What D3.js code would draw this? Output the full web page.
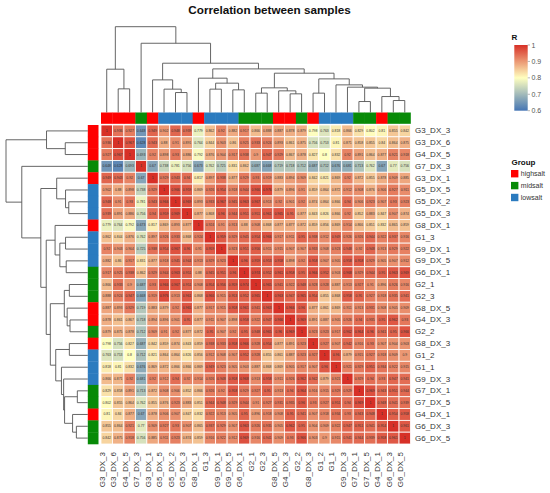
<!DOCTYPE html>
<html><head><meta charset="utf-8">
<script src="https://cdn.jsdelivr.net/npm/d3@7/dist/d3.min.js"></script>
<style>body{margin:0;background:#fff}svg{display:block;font-family:"Liberation Sans",Arial,sans-serif}</style>
</head><body><svg id="chart" width="550" height="493"></svg>
<script>
// ---- data ----
const samples = ["G3_DX_3","G3_DX_6","G4_DX_5","G7_DX_3","G3_DX_1","G5_DX_5","G5_DX_2","G5_DX_3","G8_DX_1","G1_3","G9_DX_1","G9_DX_5","G6_DX_1","G2_1","G2_3","G8_DX_5","G4_DX_3","G2_2","G8_DX_3","G1_2","G1_1","G9_DX_3","G7_DX_1","G7_DX_5","G4_DX_1","G6_DX_3","G6_DX_5"];
const sampleGroup = ["highsalt","highsalt","highsalt","midsalt","highsalt","lowsalt","lowsalt","lowsalt","highsalt","lowsalt","lowsalt","lowsalt","midsalt","midsalt","midsalt","highsalt","highsalt","midsalt","highsalt","lowsalt","lowsalt","lowsalt","midsalt","midsalt","highsalt","midsalt","midsalt"];
const groupNames = ["highsalt","midsalt","lowsalt"];
const groupColors = ["#FF0000","#078A07","#2B7BBF"];
// upper triangle of the correlation matrix, row i starts at column i
const upper = [
 [1,0.936,0.927,0.648,0.949,0.902,0.948,0.939,0.779,0.862,0.92,0.882,0.917,0.866,0.888,0.887,0.878,0.879,0.798,0.763,0.818,0.866,0.829,0.802,0.81,0.855,0.842],
 [1,0.967,0.628,0.943,0.88,0.91,0.891,0.764,0.844,0.903,0.86,0.925,0.933,0.924,0.893,0.861,0.875,0.756,0.753,0.81,0.871,0.858,0.855,0.84,0.864,0.875],
 [1,0.693,0.92,0.898,0.93,0.886,0.792,0.876,0.904,0.917,0.938,0.9,0.947,0.929,0.867,0.878,0.827,0.8,0.832,0.92,0.891,0.864,0.877,0.921,0.918],
 [1,0.67,0.738,0.781,0.756,0.673,0.762,0.725,0.831,0.862,0.687,0.668,0.719,0.718,0.712,0.687,0.712,0.676,0.681,0.713,0.762,0.67,0.77,0.756],
 [1,0.929,0.943,0.94,0.817,0.897,0.938,0.877,0.929,0.93,0.919,0.883,0.894,0.909,0.842,0.821,0.869,0.92,0.872,0.855,0.878,0.909,0.885],
 [1,0.966,0.959,0.869,0.926,0.954,0.918,0.944,0.966,0.976,0.879,0.896,0.91,0.859,0.864,0.872,0.912,0.908,0.876,0.906,0.927,0.911],
 [1,0.969,0.893,0.933,0.967,0.945,0.963,0.967,0.913,0.92,0.901,0.92,0.874,0.864,0.866,0.94,0.906,0.923,0.907,0.93,0.923],
 [1,0.877,0.868,0.96,0.944,0.951,0.951,0.961,0.965,0.95,0.877,0.843,0.826,0.866,0.92,0.852,0.883,0.847,0.907,0.874],
 [1,0.924,0.91,0.913,0.88,0.908,0.868,0.877,0.877,0.872,0.859,0.856,0.869,0.914,0.866,0.851,0.832,0.865,0.859],
 [1,0.959,0.929,0.945,0.954,0.966,0.917,0.911,0.95,0.938,0.912,0.949,0.926,0.926,0.944,0.922,0.937,0.916],
 [1,0.923,0.951,0.956,0.915,0.915,0.907,0.907,0.933,0.908,0.923,0.948,0.92,0.948,0.913,0.929,0.922],
 [1,0.96,0.959,0.953,0.958,0.898,0.92,0.958,0.907,0.905,0.958,0.958,0.929,0.905,0.907,0.912],
 [1,0.974,0.952,0.961,0.958,0.95,0.966,0.952,0.903,0.968,0.929,0.944,0.95,0.963,0.969],
 [1,0.965,0.941,0.922,0.948,0.928,0.928,0.887,0.913,0.927,0.91,0.896,0.926,0.916],
 [1,0.963,0.947,0.965,0.954,0.855,0.868,0.958,0.95,0.927,0.918,0.935,0.941],
 [1,0.966,0.96,0.877,0.861,0.869,0.911,0.913,0.931,0.908,0.905,0.909],
 [1,0.969,0.891,0.887,0.905,0.926,0.94,0.935,0.95,0.962,0.93],
 [1,0.923,0.923,0.917,0.962,0.964,0.96,0.941,0.95,0.966],
 [1,0.927,0.907,0.942,0.916,0.93,0.907,0.904,0.903],
 [1,0.96,0.879,0.915,0.927,0.918,0.909,0.9],
 [1,0.921,0.929,0.951,0.934,0.922,0.915],
 [1,0.929,0.94,0.93,0.947,0.941],
 [1,0.969,0.943,0.951,0.944],
 [1,0.948,0.941,0.939],
 [1,0.954,0.958],
 [1,0.961],
 [1]
];
// hierarchical clustering merges (hclust style): negative = leaf (1-based display order), positive = earlier merge
const merges = [
 [-23,-24,11],[-26,-27,12],[-25,2,16],[-17,-18,18.7],[-14,-15,19.4],[-19,-20,19.4],
 [-7,-8,20],[-16,4,21.7],[-12,-13,22.7],[-6,7,23.4],[-10,-11,23.4],[-2,-3,23.7],
 [1,3,24.4],[5,8,24.7],[-22,13,25.4],[-21,15,27.7],[11,9,29.4],[-5,10,32.7],
 [6,16,33.7],[-9,17,34.4],[14,19,39.4],[-1,12,43.4],[20,21,43.7],[18,23,49.4],
 [-4,24,69.4],[22,25,86]
];
const legendTicks = [1,0.9,0.8,0.7,0.6];
const title = "Correlation between samples";

// ---- build ----
const n = samples.length;
const M = d3.range(n).map(()=>new Array(n));
upper.forEach((row,i)=>row.forEach((v,k)=>{M[i][i+k]=v; M[i+k][i]=v;}));
const cells = [];
for(let i=0;i<n;i++)for(let j=0;j<n;j++)cells.push({i,j,v:M[i][j]});

const svg = d3.select("#chart");
const x = d3.scaleBand().domain(d3.range(n)).range([101,410.5]);
const y = d3.scaleBand().domain(d3.range(n)).range([125,444]);
const color = d3.scaleLinear().domain([0.6,0.8,1]).range(["#4575B4","#FFFFBF","#D73027"]).clamp(true);
const gcol = d3.scaleOrdinal().domain(groupNames).range(groupColors);

svg.append("text").attr("x",269.5).attr("y",13.8).attr("text-anchor","middle")
  .attr("font-weight","bold").attr("font-size",11.7).attr("fill","#111").text(title);

// heat cells
const g = svg.append("g");
g.selectAll("rect").data(cells).join("rect")
 .attr("x",d=>x(d.j)).attr("y",d=>y(d.i)).attr("width",x.bandwidth()).attr("height",y.bandwidth())
 .attr("fill",d=>color(d.v)).attr("stroke","#ffffff").attr("stroke-width",0.8);
g.selectAll("text").data(cells).join("text")
 .attr("x",d=>x(d.j)+x.bandwidth()/2).attr("y",d=>y(d.i)+y.bandwidth()/2)
 .attr("text-anchor","middle").attr("dominant-baseline","central")
 .attr("font-size",3.4).attr("fill","#333").text(d=>String(d.v));

// annotation bars
svg.append("g").selectAll("rect").data(samples).join("rect")
 .attr("x",(d,i)=>x(i)).attr("y",112.5).attr("width",x.bandwidth()+0.3).attr("height",11.3)
 .attr("fill",(d,i)=>gcol(sampleGroup[i]));
svg.append("g").selectAll("rect").data(samples).join("rect")
 .attr("x",87.8).attr("y",(d,i)=>y(i)).attr("width",10.7).attr("height",y.bandwidth()+0.3)
 .attr("fill",(d,i)=>gcol(sampleGroup[i]));

// labels
svg.append("g").selectAll("text").data(samples).join("text")
 .attr("x",415).attr("y",(d,i)=>y(i)+y.bandwidth()/2).attr("dominant-baseline","central")
 .attr("font-size",8).attr("fill","#333").text(d=>d);
svg.append("g").selectAll("text").data(samples).join("text")
 .attr("transform",(d,i)=>`translate(${x(i)+x.bandwidth()/2-4.3},452) rotate(-90)`)
 .attr("text-anchor","end").attr("dominant-baseline","central")
 .attr("font-size",8).attr("fill","#333").text(d=>d);

// dendrograms
function nodePos(id, band){
  if(id<0){const k=-id-1; return {p: band(k)+band.bandwidth()/2, h:0};}
  return nodes[id-1];
}
let nodes=[];
function layout(band){
  nodes=[];
  merges.forEach(m=>{
    const a=nodePos(m[0],band), b=nodePos(m[1],band);
    nodes.push({p:(a.p+b.p)/2,h:m[2],a,b});
  });
  return nodes.slice();
}
const hTop = d3.scaleLinear().domain([0,86]).range([112.5,26.7]);
const hLeft = d3.scaleLinear().domain([0,86]).range([87.8,6]);
const topNodes = layout(x);
svg.append("g").selectAll("path").data(topNodes).join("path")
 .attr("d",d=>`M${d.a.p},${hTop(d.a.h)}V${hTop(d.h)}H${d.b.p}V${hTop(d.b.h)}`)
 .attr("fill","none").attr("stroke","#555").attr("stroke-width",0.9);
const leftNodes = layout(y);
svg.append("g").selectAll("path").data(leftNodes).join("path")
 .attr("d",d=>`M${hLeft(d.a.h)},${d.a.p}H${hLeft(d.h)}V${d.b.p}H${hLeft(d.b.h)}`)
 .attr("fill","none").attr("stroke","#555").attr("stroke-width",0.9);

// color legend
const ly = d3.scaleLinear().domain([0.6,1]).range([110.7,45]);
const defs = svg.append("defs");
const grad = defs.append("linearGradient").attr("id","rg").attr("x1",0).attr("y1",1).attr("x2",0).attr("y2",0);
d3.range(0,1.0001,0.05).forEach(t=>grad.append("stop").attr("offset",t).attr("stop-color",color(0.6+0.4*t)));
svg.append("text").attr("x",511.5).attr("y",39.5).attr("font-weight","bold").attr("font-size",8).attr("fill","#111").text("R");
svg.append("rect").attr("x",514.3).attr("y",45).attr("width",13.4).attr("height",65.7).attr("fill","url(#rg)");
const lt = svg.append("g").selectAll("g").data(legendTicks).join("g");
lt.append("line").attr("x1",527.7).attr("x2",530).attr("y1",d=>ly(d)).attr("y2",d=>ly(d)).attr("stroke","#888").attr("stroke-width",0.6);
lt.append("text").attr("x",531.5).attr("y",d=>ly(d)).attr("dominant-baseline","central")
 .attr("font-size",7).attr("fill","#555").text(d=>String(d));

// group legend
svg.append("text").attr("x",511.5).attr("y",164.5).attr("font-weight","bold").attr("font-size",8).attr("fill","#111").text("Group");
const gl = svg.append("g").selectAll("g").data(groupNames).join("g");
gl.append("rect").attr("x",511).attr("y",(d,i)=>170+i*11.9).attr("width",7.4).attr("height",7.4).attr("fill",d=>gcol(d));
gl.append("text").attr("x",520.8).attr("y",(d,i)=>173.8+i*11.9).attr("dominant-baseline","central")
 .attr("font-size",7).attr("fill","#333").text(d=>d);
</script></body></html>
